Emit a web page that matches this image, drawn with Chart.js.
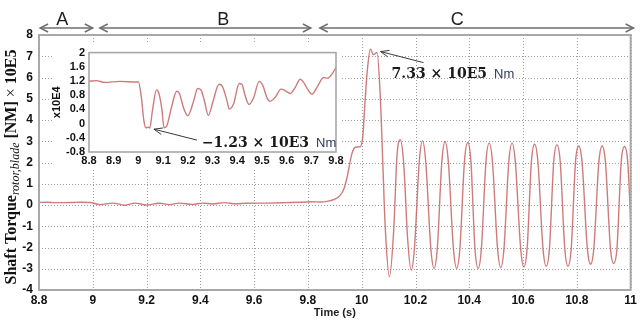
<!DOCTYPE html>
<html><head><meta charset="utf-8">
<script src="https://cdn.jsdelivr.net/npm/chart.js@4.4.1/dist/chart.umd.min.js"></script>
<style>
html,body{margin:0;padding:0;background:#fff;}
#wrap{position:relative;width:640px;height:320px;overflow:hidden;}
#main{position:absolute;left:0;top:0;}
#inset{position:absolute;left:44px;top:42px;}
</style></head><body>
<div id="wrap"><canvas id="main" width="640" height="320"></canvas><canvas id="inset" width="310" height="130"></canvas></div>
<script>
// ---- data (main chart, torque in x10E5 Nm) ----
const mainTime = [8.8, 8.83, 8.864, 8.925, 8.952, 8.99, 9.026, 9.075, 9.119, 9.156, 9.199, 9.248, 9.285, 9.322, 9.371, 9.409, 9.446, 9.489, 9.532, 9.569, 9.643, 9.717, 9.78, 9.816, 9.845, 9.875, 9.9, 9.92, 9.935, 9.946, 9.964, 9.977, 9.995, 10.004, 10.012, 10.02, 10.032, 10.044, 10.057, 10.069, 10.088, 10.103, 10.119, 10.131, 10.143, 10.156, 10.171, 10.184,
  10.196, 10.214, 10.226, 10.238, 10.257, 10.269, 10.281, 10.298, 10.31, 10.322, 10.341, 10.353, 10.365, 10.382, 10.394, 10.406, 10.421, 10.433, 10.445, 10.462, 10.474, 10.486, 10.505, 10.517, 10.529, 10.547, 10.559, 10.571, 10.591, 10.603, 10.615, 10.631, 10.643, 10.655, 10.674, 10.686, 10.698, 10.714, 10.726, 10.738, 10.755, 10.767, 10.779, 10.795, 10.807, 10.819, 10.839, 10.851, 10.863, 10.882, 10.894, 10.906, 10.925, 10.937, 10.949, 10.965, 10.977, 10.989, 11.0];
const mainTorque = [0.12, 0.13, 0.11, 0.12, 0.13, 0.12, 0.02, 0.09, -0.01, 0.09, 0.0, 0.08, 0.02, 0.09, 0.03, 0.09, 0.05, 0.11, 0.06, 0.08, 0.09, 0.11, 0.13, 0.15, 0.14, 0.18, 0.28, 0.45, 0.8, 1.33, 2.44, 2.72, 2.75, 3.22, 4.8, 6.21, 7.33, 7.08, 7.18, 5.11, -1.18, -3.38, -1.18, 2.28, 3.07, 1.97, -1.65, -3.07,
  -2.05, 2.05, 3.02, 2.05, -2.05, -2.99, -2.05, 2.05, 2.99, 2.05, -2.05, -2.99, -2.05, 2.05, 2.94, 2.05, -2.05, -2.99, -2.05, 2.05, 2.91, 2.05, -2.05, -2.94, -2.05, 2.05, 2.91, 2.05, -2.05, -2.91, -2.05, 2.05, 2.86, 2.05, -2.05, -2.88, -2.05, 2.05, 2.83, 2.05, -2.05, -2.88, -2.05, 2.05, 2.78, 2.05, -2.05, -2.78, -2.05, 2.05, 2.78, 2.05, -2.05, -2.75, -2.05, 2.05, 2.75, 2.05, -0.71];
const mainXTicks = [8.8, 9, 9.2, 9.4, 9.6, 9.8, 10, 10.2, 10.4, 10.6, 10.8, 11];
const mainYTicks = [-4, -3, -2, -1, 0, 1, 2, 3, 4, 5, 6, 7, 8];
// ---- data (inset, torque in x10E4 Nm) ----
const insetTime = [8.8, 8.83, 8.864, 8.925, 8.992, 9.0, 9.012, 9.022, 9.03, 9.04, 9.046, 9.057, 9.073, 9.08, 9.094, 9.104, 9.114, 9.134, 9.155, 9.166, 9.182, 9.2, 9.222, 9.24, 9.253, 9.267, 9.283, 9.303, 9.326, 9.34, 9.357, 9.368, 9.385, 9.408, 9.419, 9.432, 9.448, 9.466, 9.489, 9.504, 9.52, 9.533, 9.554, 9.577, 9.594, 9.615, 9.635, 9.655, 9.669, 9.687, 9.703, 9.723, 9.75, 9.766, 9.784, 9.8];
const insetTorque = [1.19, 1.21, 1.16, 1.19, 1.17, 1.17, 0.74, 0.09, -0.12, -0.10, -0.123, 0.37, 0.95, 0.91, 0.46, -0.12, -0.08, 0.46, 0.91, 0.85, 0.46, 0.22, 0.6, 0.99, 0.95, 0.65, 0.23, 0.65, 1.11, 1.05, 0.69, 0.41, 0.55, 1.13, 1.11, 0.79, 0.54, 0.72, 1.19, 1.07, 0.74, 0.63, 0.74, 0.97, 0.93, 0.85, 1.02, 1.25, 1.16, 0.95, 0.83, 1.02, 1.30, 1.28, 1.40, 1.58];
const insetXTicks = [8.8, 8.9, 9, 9.1, 9.2, 9.3, 9.4, 9.5, 9.6, 9.7, 9.8];
const insetYTicks = [-0.8, -0.4, 0, 0.4, 0.8, 1.2, 1.6, 2];
// ---- phases ----
const phaseLabels = ['A', 'B', 'C'];
const phaseStart = [8.804, 9.026, 9.844];
const phaseEnd = [9.0, 9.811, 11.011];
const phaseLabelAt = [8.886, 9.485, 10.355];
// ---- annotations ----
const mainNote = {text: '7.33 \u00d7 10E5', unit: 'Nm', tip: [10.07, 7.22], tail: [10.23, 6.70], at: [10.111, 5.99]};
const insetNote = {text: '\u22121.23 \u00d7 10E3', unit: 'Nm', tip: [9.063, -0.157], tail: [9.237, -0.465], at: [9.257, -0.66]};

const LINE = 'rgba(196,100,100,0.85)';
const GRID = '#9c9c9c';
const FRAME = '#a8a8a8';
const TICKFONT = {family: 'Liberation Sans', size: 12, weight: 'bold'};

function pts(t, v) { return t.map((x, i) => ({x: x, y: v[i]})); }
function fmt(v) { return String(Number(v.toFixed(1))); }

function openArrow(ctx, x1, y1, x2, y2, len, ang) {
  ctx.beginPath(); ctx.moveTo(x1, y1); ctx.lineTo(x2, y2); ctx.stroke();
  const a = Math.atan2(y2 - y1, x2 - x1);
  ctx.beginPath();
  ctx.moveTo(x2 - len * Math.cos(a - ang), y2 - len * Math.sin(a - ang));
  ctx.lineTo(x2, y2);
  ctx.lineTo(x2 - len * Math.cos(a + ang), y2 - len * Math.sin(a + ang));
  ctx.stroke();
}

function drawNote(ctx, xs, ys, note) {
  const tx = xs.getPixelForValue(note.tip[0]), ty = ys.getPixelForValue(note.tip[1]);
  const sx = xs.getPixelForValue(note.tail[0]), sy = ys.getPixelForValue(note.tail[1]);
  ctx.save();
  ctx.strokeStyle = '#3a3a3a'; ctx.lineWidth = 1;
  openArrow(ctx, sx, sy, tx, ty, 9, 0.38);
  const px = xs.getPixelForValue(note.at[0]), py = ys.getPixelForValue(note.at[1]);
  ctx.font = 'bold 14px "DejaVu Serif"';
  ctx.fillStyle = '#1a1a1a'; ctx.textBaseline = 'alphabetic'; ctx.textAlign = 'left';
  ctx.fillText(note.text, px, py);
  const w = ctx.measureText(note.text).width;
  ctx.font = '13px "Liberation Sans"';
  ctx.fillStyle = '#2b3a58';
  ctx.fillText(note.unit, px + w + 7, py);
  ctx.restore();
}

const frameMain = {
  id: 'frameMain',
  beforeDatasetsDraw(chart) {
    const ctx = chart.ctx, a = chart.chartArea, xs = chart.scales.x, ys = chart.scales.y;
    ctx.save();
    ctx.strokeStyle = GRID; ctx.lineWidth = 1; ctx.setLineDash([1, 2]);
    mainXTicks.forEach(v => {
      const x = Math.round(xs.getPixelForValue(v)) + 0.5;
      ctx.beginPath(); ctx.moveTo(x, a.top); ctx.lineTo(x, a.bottom); ctx.stroke();
    });
    mainYTicks.forEach(v => {
      const y = Math.round(ys.getPixelForValue(v)) + 0.5;
      ctx.beginPath(); ctx.moveTo(a.left, y); ctx.lineTo(a.right, y); ctx.stroke();
    });
    ctx.restore();
  },
  afterDraw(chart) {
    const ctx = chart.ctx, a = chart.chartArea, xs = chart.scales.x, ys = chart.scales.y;
    ctx.save();
    ctx.strokeStyle = FRAME; ctx.lineWidth = 2;
    ctx.strokeRect(a.left, a.top, a.right - a.left, a.bottom - a.top);
    // phase arrows
    ctx.strokeStyle = '#6e6e6e'; ctx.lineWidth = 1.4;
    const yA = 28;
    for (let i = 0; i < phaseLabels.length; i++) {
      const x1 = xs.getPixelForValue(phaseStart[i]), x2 = xs.getPixelForValue(phaseEnd[i]);
      ctx.beginPath(); ctx.moveTo(x1, yA); ctx.lineTo(x2, yA); ctx.stroke();
      ctx.beginPath(); ctx.moveTo(x1 + 8, yA - 4); ctx.lineTo(x1, yA); ctx.lineTo(x1 + 8, yA + 4); ctx.stroke();
      ctx.beginPath(); ctx.moveTo(x2 - 8, yA - 4); ctx.lineTo(x2, yA); ctx.lineTo(x2 - 8, yA + 4); ctx.stroke();
      ctx.font = '18px "Liberation Sans"'; ctx.fillStyle = '#1e1e1e';
      ctx.textAlign = 'center'; ctx.textBaseline = 'alphabetic';
      ctx.fillText(phaseLabels[i], xs.getPixelForValue(phaseLabelAt[i]), 25);
    }
    // y axis title with subscript
    ctx.translate(16, 167);
    ctx.rotate(-Math.PI / 2);
    const parts = [
      {t: 'Shaft Torque', f: 'bold 16px "Liberation Serif"', dy: 0},
      {t: 'rotor,blade', f: 'italic 12px "Liberation Serif"', dy: 3},
      {t: ' [NM] ', f: 'bold 16px "Liberation Serif"', dy: 0},
      {t: '\u00d7', f: '16px "Liberation Serif"', dy: 0},
      {t: ' 10E5', f: 'bold 16px "Liberation Serif"', dy: 0}
    ];
    let total = 0;
    parts.forEach(p => { ctx.font = p.f; p.w = ctx.measureText(p.t).width; total += p.w; });
    let x = -total / 2;
    ctx.fillStyle = '#111'; ctx.textAlign = 'left'; ctx.textBaseline = 'alphabetic';
    parts.forEach(p => { ctx.font = p.f; ctx.fillText(p.t, x, p.dy); x += p.w; });
    ctx.restore();
    drawNote(ctx, xs, ys, mainNote);
  }
};

new Chart(document.getElementById('main'), {
  type: 'line',
  data: {datasets: [{data: pts(mainTime, mainTorque), borderColor: LINE, borderWidth: 1.4, pointRadius: 0, cubicInterpolationMode: 'monotone', fill: false}]},
  options: {
    responsive: false, animation: false, devicePixelRatio: 1,
    layout: {padding: {top: 35, right: 7, left: 0, bottom: 0}},
    plugins: {legend: {display: false}, tooltip: {enabled: false}},
    scales: {
      x: {
        type: 'linear', min: 8.8, max: 11,
        afterBuildTicks: s => { s.ticks = mainXTicks.map(v => ({value: v})); },
        afterFit: s => { s.height = 30; },
        ticks: {callback: v => fmt(v), font: TICKFONT, color: '#111', padding: 3, maxRotation: 0, autoSkip: false},
        grid: {display: false, drawTicks: false},
        border: {display: false},
        title: {display: true, text: 'Time (s)', font: {family: 'Liberation Sans', size: 11, weight: 'bold'}, color: '#222', padding: {top: 0, bottom: 0}}
      },
      y: {
        min: -4, max: 8,
        afterBuildTicks: s => { s.ticks = mainYTicks.map(v => ({value: v})); },
        afterFit: s => { s.width = 39; },
        ticks: {callback: v => fmt(v), font: TICKFONT, color: '#111', padding: 6, autoSkip: false},
        grid: {display: false, drawTicks: false},
        border: {display: false}
      }
    }
  },
  plugins: [frameMain]
});

const insetPlug = {
  id: 'insetPlug',
  beforeDraw(chart) {
    const ctx = chart.ctx;
    ctx.save(); ctx.fillStyle = '#ffffff'; ctx.fillRect(8, 0, 290, 128); ctx.restore();
  },
  afterDraw(chart) {
    const ctx = chart.ctx, a = chart.chartArea;
    ctx.save(); ctx.strokeStyle = FRAME; ctx.lineWidth = 1.6;
    ctx.strokeRect(a.left, a.top, a.right - a.left, a.bottom - a.top);
    ctx.restore();
    drawNote(ctx, chart.scales.x, chart.scales.y, insetNote);
  }
};

new Chart(document.getElementById('inset'), {
  type: 'line',
  data: {datasets: [{data: pts(insetTime, insetTorque), borderColor: LINE, borderWidth: 1.4, pointRadius: 0, cubicInterpolationMode: 'monotone', fill: false}]},
  options: {
    responsive: false, animation: false, devicePixelRatio: 1,
    layout: {padding: {top: 10, right: 18, left: 0, bottom: 0}},
    plugins: {legend: {display: false}, tooltip: {enabled: false}},
    scales: {
      x: {
        type: 'linear', min: 8.8, max: 9.8,
        afterBuildTicks: s => { s.ticks = insetXTicks.map(v => ({value: v})); },
        afterFit: s => { s.height = 20; },
        ticks: {callback: v => fmt(v), font: {family: 'Liberation Sans', size: 11, weight: 'bold'}, color: '#111', padding: 2, maxRotation: 0, autoSkip: false},
        grid: {display: false, drawTicks: false},
        border: {display: false}
      },
      y: {
        min: -0.8, max: 2,
        afterBuildTicks: s => { s.ticks = insetYTicks.map(v => ({value: v})); },
        afterFit: s => { s.width = 45; },
        ticks: {callback: v => fmt(v), font: {family: 'Liberation Sans', size: 11, weight: 'bold'}, color: '#111', padding: 4, autoSkip: false},
        grid: {display: false, drawTicks: false},
        border: {display: false},
        title: {display: true, text: 'x10E4', font: {family: 'Liberation Sans', size: 11, weight: 'bold'}, color: '#111', padding: {top: 6, bottom: 0}}
      }
    }
  },
  plugins: [insetPlug]
});
</script></body></html>
